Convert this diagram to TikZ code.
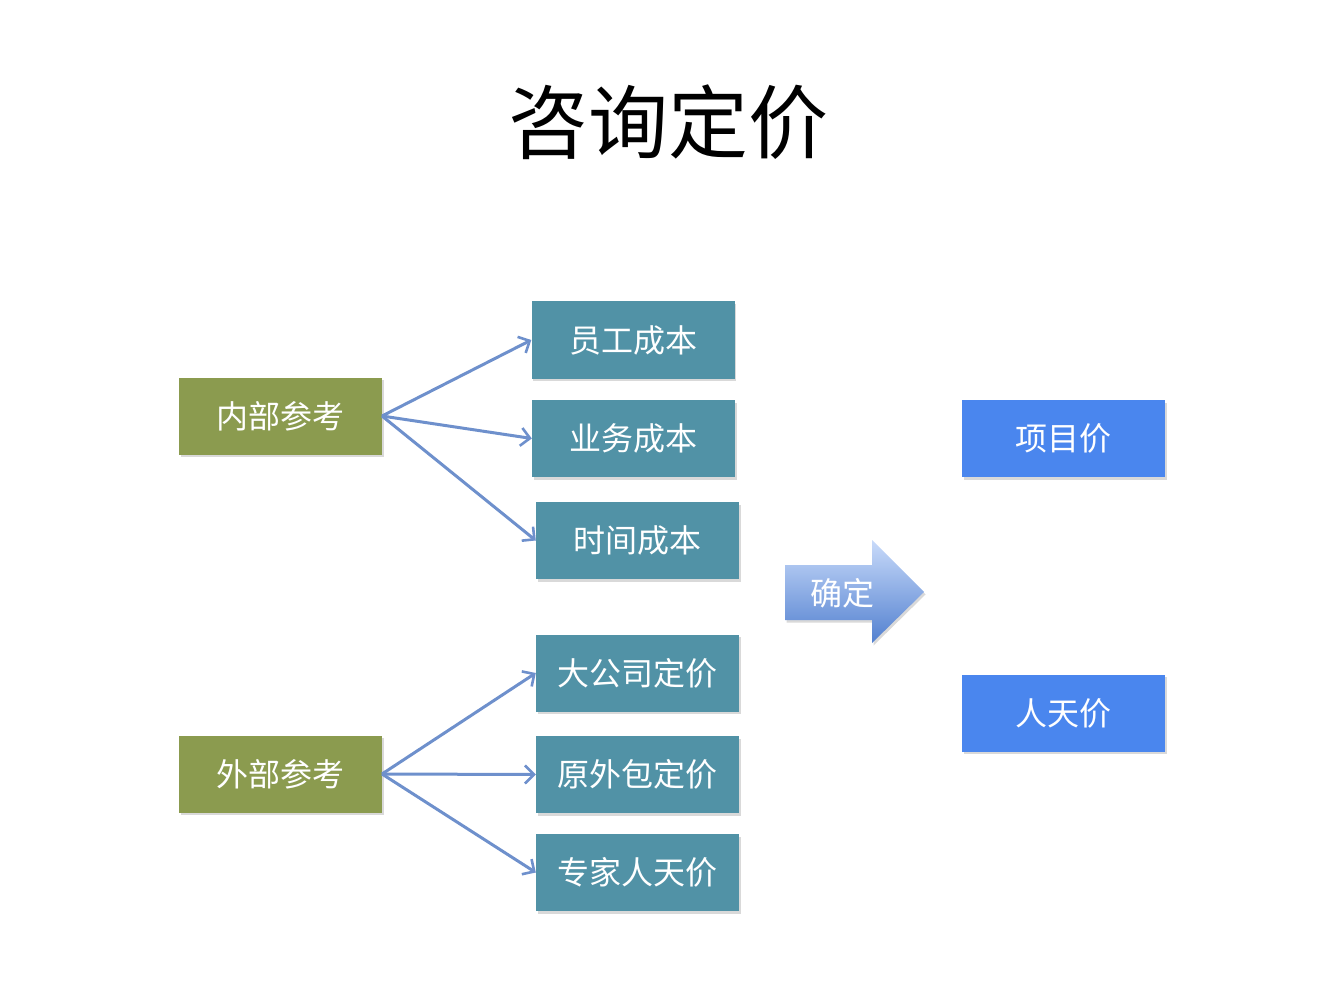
\documentclass[tikz,border=0pt]{standalone}
\usepackage{fontspec}
\newfontfamily\cjk{Noto Sans CJK SC}
\usetikzlibrary{shadows,arrows.meta,shapes.arrows}
\definecolor{olivebox}{HTML}{8B9B4F}
\definecolor{tealbox}{HTML}{5192A6}
\definecolor{bluebox}{HTML}{4A86EE}
\definecolor{linkc}{HTML}{6E90CC}
\begin{document}
\begin{tikzpicture}[x=1pt,y=-1pt,
  box/.style={draw=none, minimum width=203pt, minimum height=77pt, inner sep=0pt,
    text=white, font=\cjk\fontsize{32}{32}\selectfont,
    drop shadow={shadow xshift=1.5pt, shadow yshift=-2.5pt, opacity=0.3, fill=gray}},
  ref/.style={box, fill=olivebox},
  item/.style={box, fill=tealbox},
  res/.style={box, fill=bluebox},
  link/.style={draw=linkc, line width=3pt, -{Straight Barb[length=9pt,width=18pt,line width=2.6pt]}}
]
\useasboundingbox (0,0) rectangle (1336,1000);
\node[font=\cjk\fontsize{80}{80}\selectfont, text=black] (title) at (668,122) {咨询定价};

\node[ref] (nb) at (280.5,416) {内部参考};
\node[ref] (wb) at (280.5,774) {外部参考};

\node[item] (a1) at (633,340) {员工成本};
\node[item] (a2) at (633.5,438.5) {业务成本};
\node[item] (a3) at (637.5,540.5) {时间成本};
\node[item] (b1) at (637.5,673) {大公司定价};
\node[item] (b2) at (637.5,774.5) {原外包定价};
\node[item] (b3) at (637.5,872.5) {专家人天价};

\node[res] (p1) at (1063.5,438.5) {项目价};
\node[res] (p2) at (1063.5,713) {人天价};

\coordinate (nbo) at (382,416);
\coordinate (wbo) at (382,774);
\draw[link] (nbo) -- (a1.west);
\draw[link] (nbo) -- (a2.west);
\draw[link] (nbo) -- (a3.west);
\draw[link] (wbo) -- (b1.west);
\draw[link] (wbo) -- (b2.west);
\draw[link] (wbo) -- (b3.west);

\path[top color=bluebox!30!white, bottom color=bluebox!85!black!90, draw=none,
  drop shadow={shadow xshift=1.5pt, shadow yshift=-2.5pt, opacity=0.3, fill=gray}]
  (785,565) -- (872,565) -- (872,540) -- (924,592) -- (872,643) -- (872,620) -- (785,620) -- cycle;
\node[text=white, font=\cjk\fontsize{32}{32}\selectfont] (qd) at (842,593) {确定};
\end{tikzpicture}
\end{document}
